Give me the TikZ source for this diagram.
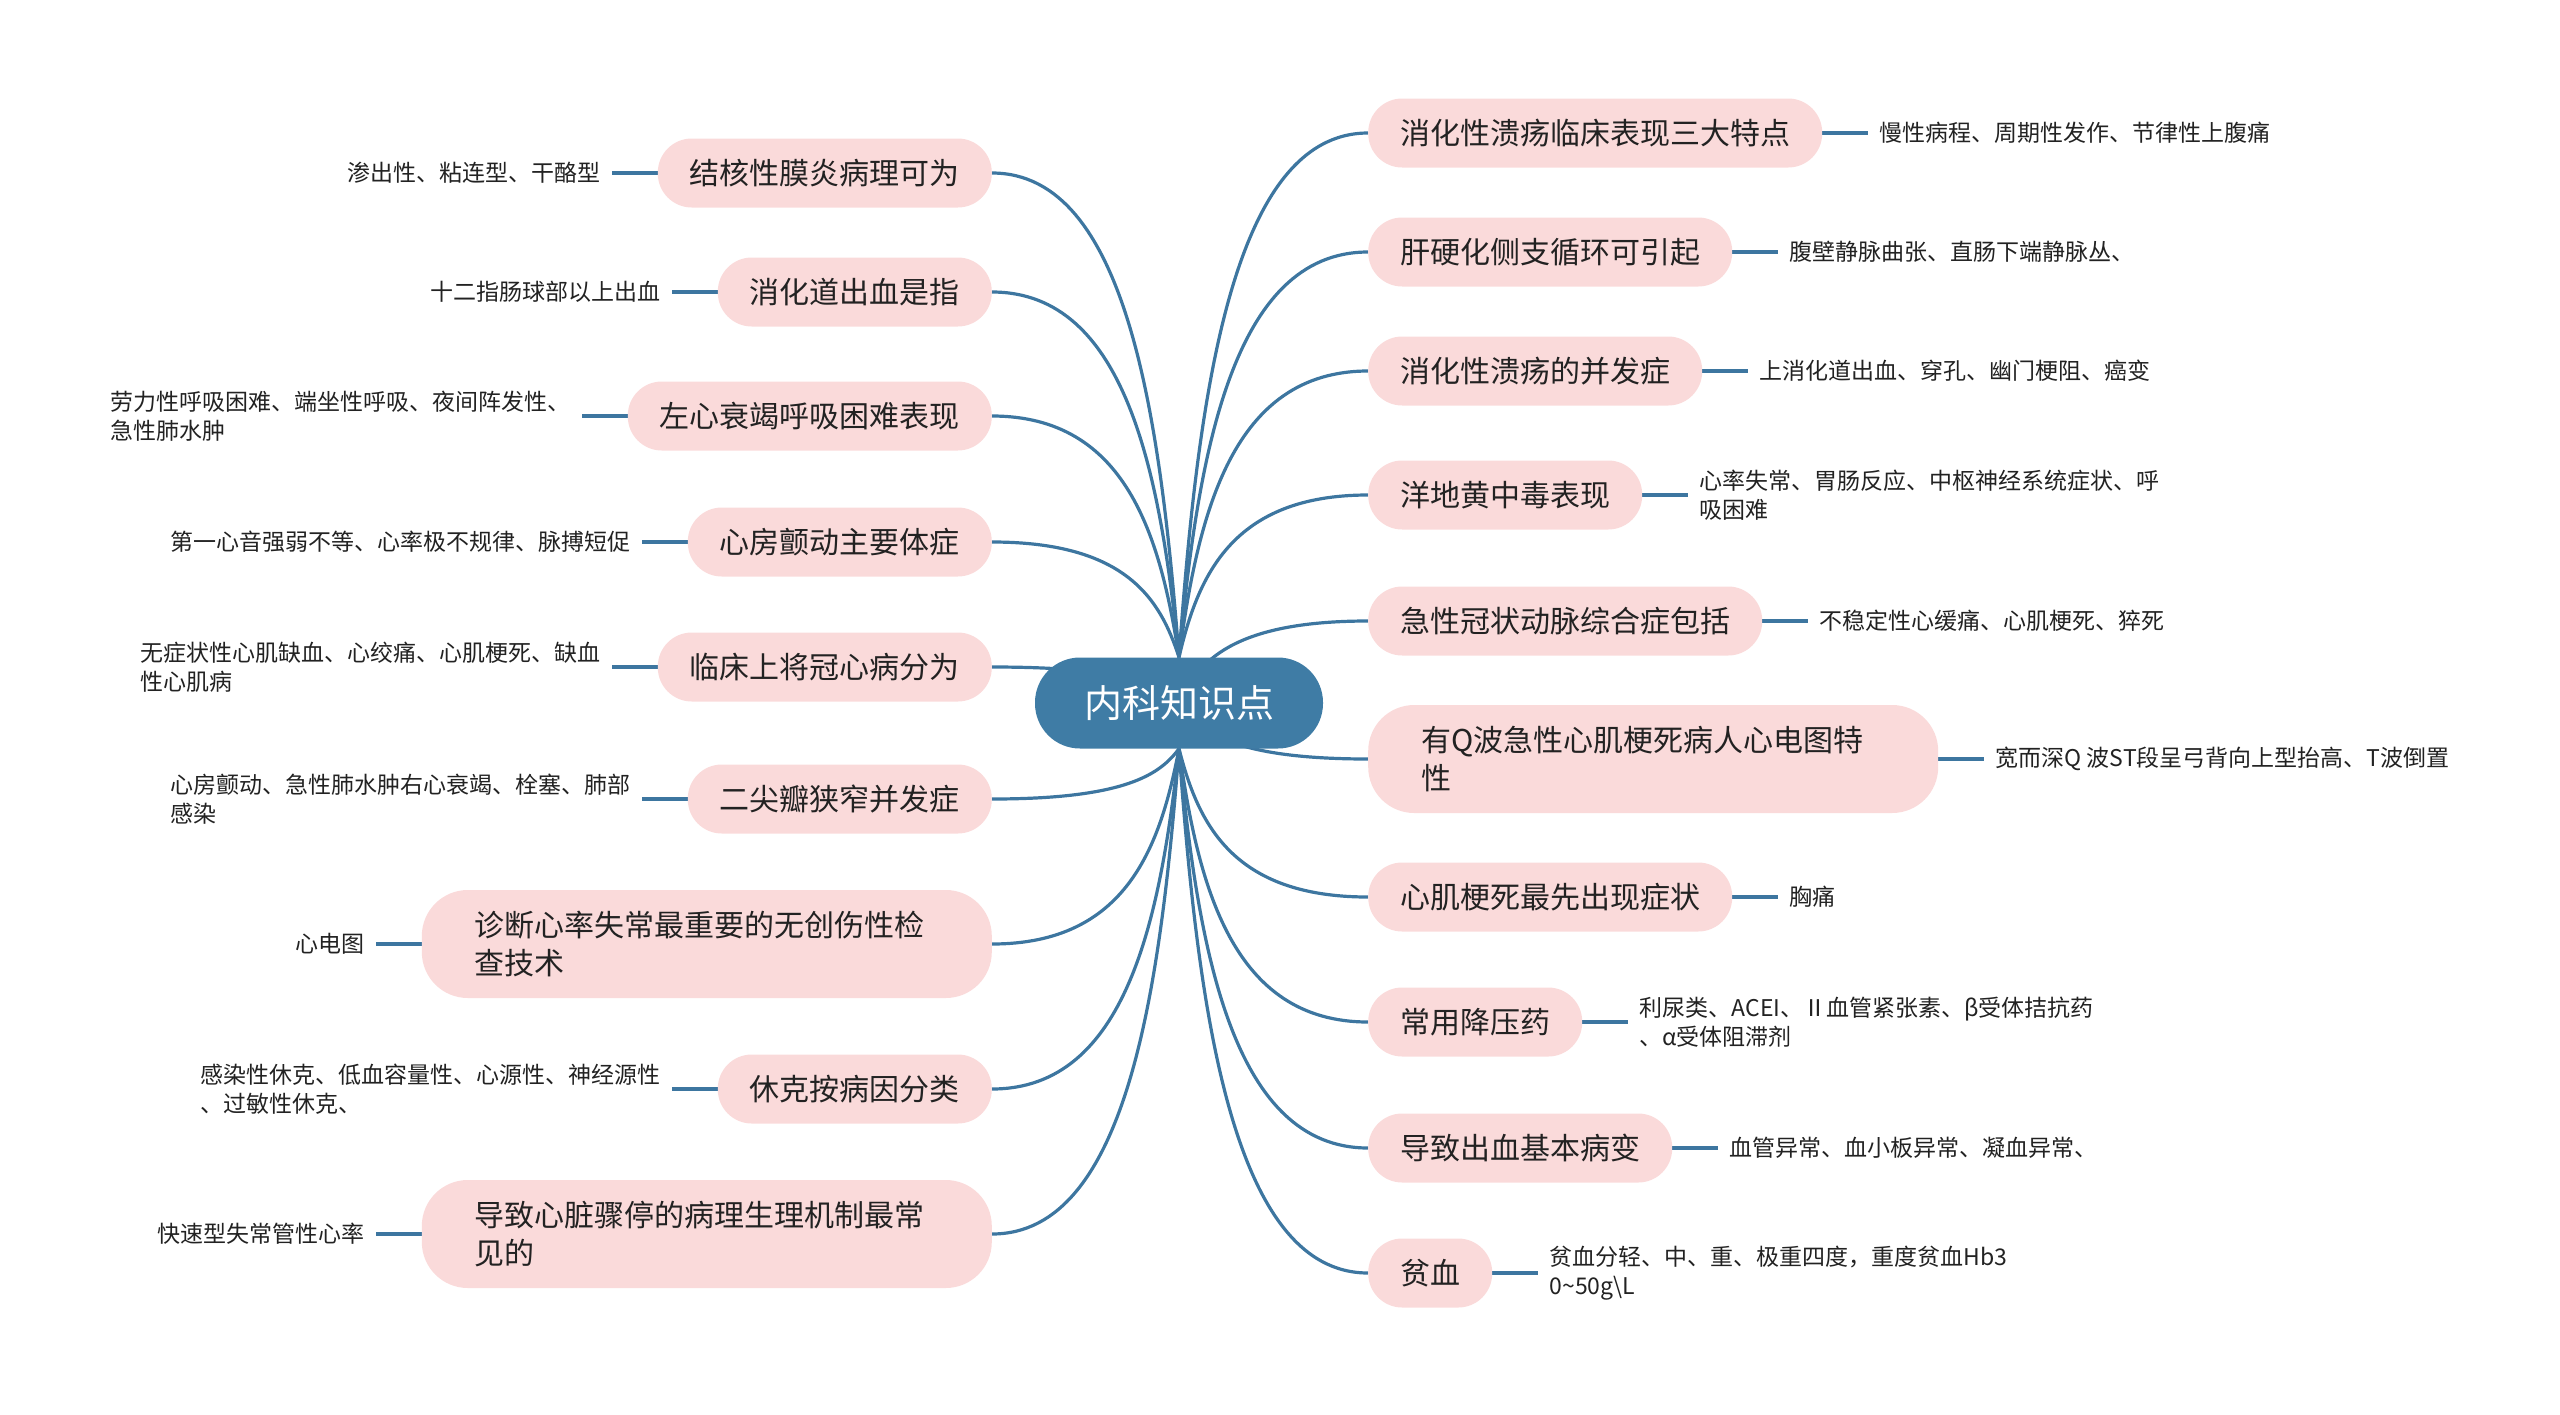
\documentclass[tikz,border=0pt]{standalone}
\usepackage{fontspec}
\setmainfont{Noto Sans CJK SC}
\usetikzlibrary{positioning,calc,backgrounds}
\definecolor{hubblue}{HTML}{3F7CA5}
\definecolor{edgeblue}{HTML}{3D76A0}
\definecolor{pinkbox}{HTML}{FADADA}
\definecolor{ink}{HTML}{222222}
\tikzset{
  hubnode/.style={fill=hubblue, rounded corners=45pt, minimum width=288pt, minimum height=91pt,
    inner sep=0pt, text=white, font=\fontsize{38}{44}\selectfont},
  topic/.style={fill=pinkbox, rounded corners=34pt, minimum height=69pt, inner xsep=32pt,
    inner ysep=0pt, text=ink, font=\fontsize{30}{38}\selectfont},
  topictwo/.style={topic, rounded corners=46pt, minimum height=108pt, text width=464pt,
    inner xsep=53pt, align=left},
  leaf/.style={inner xsep=11pt, inner ysep=2pt, text=ink, font=\fontsize{23}{29.5}\selectfont, align=left},
  branch/.style={draw=edgeblue, line width=3.2pt},
  stub/.style={draw=edgeblue, line width=3.2pt},
}
\begin{document}
\begin{tikzpicture}[x=1pt,y=-1pt]
\useasboundingbox (0,0) rectangle (2560,1414);
\node[hubnode] (C) at (1179,703) {内科知识点};

% left topics
\node[topic, anchor=east] (B1) at (992,173) {结核性膜炎病理可为};
\node[topic, anchor=east] (B2) at (992,292) {消化道出血是指};
\node[topic, anchor=east] (B3) at (992,416) {左心衰竭呼吸困难表现};
\node[topic, anchor=east] (B4) at (992,542) {心房颤动主要体症};
\node[topic, anchor=east] (B5) at (992,667) {临床上将冠心病分为};
\node[topic, anchor=east] (B6) at (992,799) {二尖瓣狭窄并发症};
\node[topictwo, anchor=east] (B7) at (992,944) {诊断心率失常最重要的无创伤性检\\查技术};
\node[topic, anchor=east] (B8) at (992,1089) {休克按病因分类};
\node[topictwo, anchor=east] (B9) at (992,1234) {导致心脏骤停的病理生理机制最常\\见的};

% right topics
\node[topic, anchor=west] (R1) at (1368,133) {消化性溃疡临床表现三大特点};
\node[topic, anchor=west] (R2) at (1368,252) {肝硬化侧支循环可引起};
\node[topic, anchor=west] (R3) at (1368,371) {消化性溃疡的并发症};
\node[topic, anchor=west] (R4) at (1368,495) {洋地黄中毒表现};
\node[topic, anchor=west] (R5) at (1368,621) {急性冠状动脉综合症包括};
\node[topictwo, anchor=west] (R6) at (1368,759) {有Q波急性心肌梗死病人心电图特\\性};
\node[topic, anchor=west] (R7) at (1368,897) {心肌梗死最先出现症状};
\node[topic, anchor=west] (R8) at (1368,1022) {常用降压药};
\node[topic, anchor=west] (R9) at (1368,1148) {导致出血基本病变};
\node[topic, anchor=west] (R10) at (1368,1273) {贫血};

% left leaves
\node[leaf, left=46pt of B1] (L1) {渗出性、粘连型、干酪型};
\node[leaf, left=46pt of B2] (L2) {十二指肠球部以上出血};
\node[leaf, left=46pt of B3] (L3) {劳力性呼吸困难、端坐性呼吸、夜间阵发性、\\急性肺水肿};
\node[leaf, left=46pt of B4] (L4) {第一心音强弱不等、心率极不规律、脉搏短促};
\node[leaf, left=46pt of B5] (L5) {无症状性心肌缺血、心绞痛、心肌梗死、缺血\\性心肌病};
\node[leaf, left=46pt of B6] (L6) {心房颤动、急性肺水肿右心衰竭、栓塞、肺部\\感染};
\node[leaf, left=46pt of B7] (L7) {心电图};
\node[leaf, left=46pt of B8] (L8) {感染性休克、低血容量性、心源性、神经源性\\、过敏性休克、};
\node[leaf, left=46pt of B9] (L9) {快速型失常管性心率};

% right leaves
\node[leaf, right=46pt of R1] (M1) {慢性病程、周期性发作、节律性上腹痛};
\node[leaf, right=46pt of R2] (M2) {腹壁静脉曲张、直肠下端静脉丛、};
\node[leaf, right=46pt of R3] (M3) {上消化道出血、穿孔、幽门梗阻、癌变};
\node[leaf, right=46pt of R4] (M4) {心率失常、胃肠反应、中枢神经系统症状、呼\\吸困难};
\node[leaf, right=46pt of R5] (M5) {不稳定性心缓痛、心肌梗死、猝死};
\node[leaf, right=46pt of R6] (M6) {宽而深Q 波ST段呈弓背向上型抬高、T波倒置};
\node[leaf, right=46pt of R7] (M7) {胸痛};
\node[leaf, right=46pt of R8] (M8) {利尿类、ACEI、Ⅱ血管紧张素、β受体拮抗药\\、α受体阻滞剂};
\node[leaf, right=46pt of R9] (M9) {血管异常、血小板异常、凝血异常、};
\node[leaf, right=46pt of R10] (M10) {贫血分轻、中、重、极重四度，重度贫血Hb3\\0\textasciitilde 50g\textbackslash L};

\begin{scope}[on background layer]
\foreach \t/\s in {B1/north,B2/north,B3/north,B4/north,B5/center,B6/south,B7/south,B8/south,B9/south} {
  \draw[branch] let \p1=(C.\s), \p2=(\t.east) in (\p1) .. controls ({\x1+0.1*(\x2-\x1)},{\y1+0.5*(\y2-\y1)}) and ({\x1+0.28*(\x2-\x1)},{\y2}) .. (\p2);
}
\foreach \t/\s in {R1/north,R2/north,R3/north,R4/north,R5/center,R6/center,R7/south,R8/south,R9/south,R10/south} {
  \draw[branch] let \p1=(C.\s), \p2=(\t.west) in (\p1) .. controls ({\x1+0.1*(\x2-\x1)},{\y1+0.5*(\y2-\y1)}) and ({\x1+0.28*(\x2-\x1)},{\y2}) .. (\p2);
}
\foreach \i in {1,...,9} { \draw[stub] (B\i.west) -- (L\i.east); }
\foreach \i in {1,...,10} { \draw[stub] (R\i.east) -- (M\i.west); }
\end{scope}
\end{tikzpicture}
\end{document}
